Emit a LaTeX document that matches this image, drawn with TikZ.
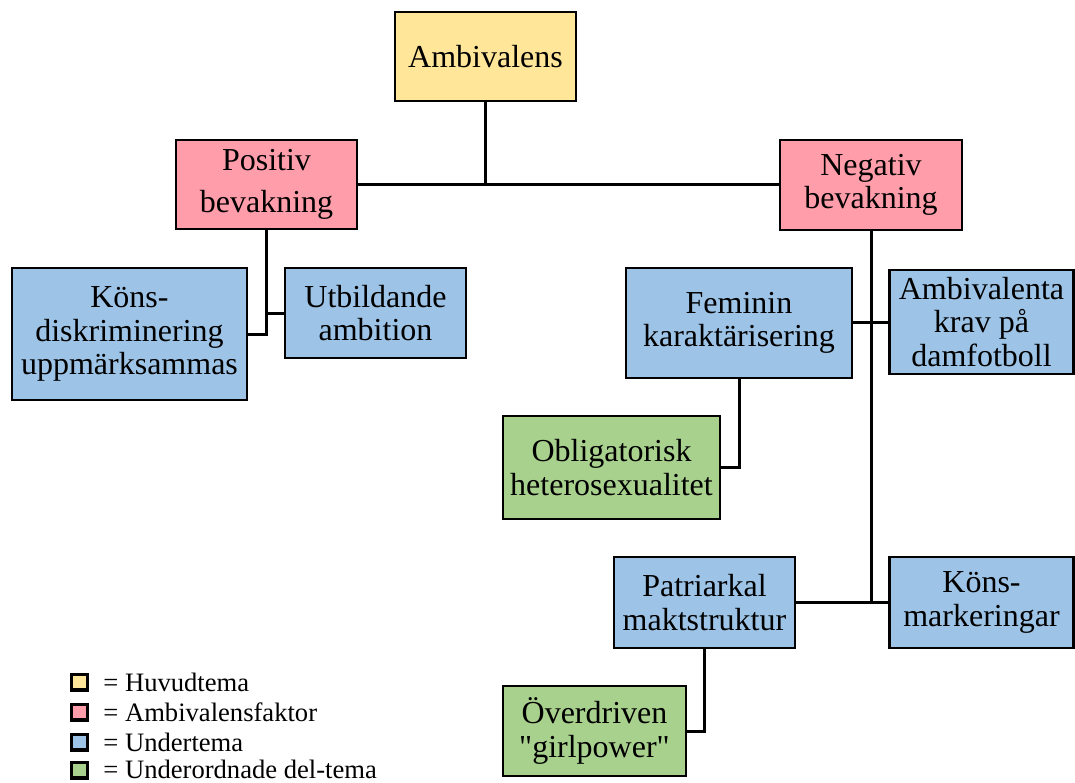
\documentclass[tikz,border=0pt]{standalone}
\usepackage{fontspec}
\setmainfont{Liberation Serif}[Ligatures=TeXOff]
\definecolor{huvud}{HTML}{FFE699}
\definecolor{faktor}{HTML}{FF9EAA}
\definecolor{under}{HTML}{9DC3E6}
\definecolor{del}{HTML}{A9D18E}
\tikzset{
  tema/.style={draw, line width=1.3pt, align=center, inner sep=0pt,
    font=\fontsize{16}{16.6}\selectfont},
  led/.style={line width=1.5pt},
  ruta/.style={draw, line width=1.7pt, minimum size=7.8pt, inner sep=0pt},
  legtext/.style={anchor=west, inner sep=0pt, font=\fontsize{13.3}{15}\selectfont}
}
\begin{document}
\begin{tikzpicture}[x=0.5pt, y=-0.5pt]
  \useasboundingbox (0,0) rectangle (1075,782);
  % huvudtema och faktorer
  \node[tema, fill=huvud, minimum width=90.5pt, minimum height=44.5pt] (amb) at (485.5,56.5) {Ambivalens};
  \node[tema, fill=faktor, minimum width=90.5pt, minimum height=44.5pt] (pos) at (266.5,184.5) {\raisebox{-2pt}{Positiv}\\[6.5pt] bevakning};
  \node[tema, fill=faktor, minimum width=91pt, minimum height=45pt] (neg) at (871,185) {Negativ\\ bevakning};
  % undertema
  \node[tema, fill=under, minimum width=117.5pt, minimum height=66pt] (kons) at (129.5,334) {Köns-\\ diskriminering\\ uppmärksammas};
  \node[tema, fill=under, minimum width=90.5pt, minimum height=45pt] (utb) at (375.5,313) {Utbildande\\ ambition};
  \node[tema, fill=under, minimum width=113pt, minimum height=55pt] (fem) at (739,323) {Feminin\\ karaktärisering};
  \node[tema, fill=under, minimum width=92pt, minimum height=52pt] (ambk) at (981.5,322) {Ambivalenta\\ krav på\\ damfotboll};
  \node[tema, fill=under, minimum width=90.5pt, minimum height=45.5pt] (pat) at (704.5,602.5) {Patriarkal\\ maktstruktur};
  \node[tema, fill=under, minimum width=92pt, minimum height=45.5pt] (konsm) at (981.5,602.5) {Köns-\\ markeringar};
  % del-tema
  \node[tema, fill=del, minimum width=108.5pt, minimum height=51.5pt] (obl) at (611.5,467.5) {Obligatorisk\\ heterosexualitet};
  \node[tema, fill=del, minimum width=91.5pt, minimum height=45pt] (over) at (594.5,731) {Överdriven\\ "girlpower"};
  % linjer
  \draw[led] (pos.east) -- (pos.east -| neg.west);
  \draw[led] (amb.south) -- (amb.south |- pos.east);
  \draw[led] (pos.south) |- (kons.east);
  \draw[led] (pos.south |- utb.west) -- (utb.west);
  \draw[led] (neg.south) -- (neg.south |- konsm.west);
  \draw[led] (fem.east |- ambk.west) -- (ambk.west);
  \draw[led] (pat.east) -- (konsm.west);
  \draw[led] (fem.south) |- (obl.east);
  \draw[led] (pat.south) |- (over.east);
  % förklaring
  \node[ruta, fill=huvud] (l1) at (79.5,682) {};
  \node[ruta, fill=faktor] (l2) at (79.5,712) {};
  \node[ruta, fill=under] (l3) at (79.5,742) {};
  \node[ruta, fill=del] (l4) at (79.5,770) {};
  \node[legtext] (t1) at (103,682) {= Huvudtema};
  \node[legtext] (t2) at (103,712) {= Ambivalensfaktor};
  \node[legtext] (t3) at (103,742) {= Undertema};
  \node[legtext] (t4) at (103,769) {= Underordnade del-tema};
\end{tikzpicture}
\end{document}
